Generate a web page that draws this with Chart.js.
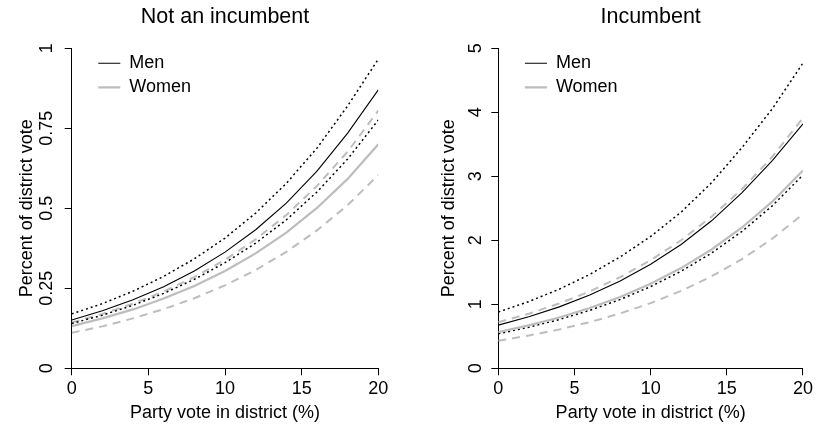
<!DOCTYPE html>
<html><head><meta charset="utf-8">
<script src="https://cdn.jsdelivr.net/npm/chart.js@4.4.1/dist/chart.umd.min.js"></script>
<style>
html,body{margin:0;padding:0;background:#fff;width:816px;height:435px;overflow:hidden}
#wrap{position:relative;width:816px;height:435px}
canvas{position:absolute;top:0}
#c1{left:0}
#c2{left:408px}
</style></head>
<body><div id="wrap"><canvas id="c1" width="408" height="435"></canvas><canvas id="c2" width="408" height="435"></canvas></div>
<script>
// Party vote in district (%)
const partyVote = [0, 2, 4, 6, 8, 10, 12, 14, 16, 18, 20];

// Panel 1: Not an incumbent
const nonIncMen      = [0.151, 0.180, 0.214, 0.255, 0.304, 0.363, 0.433, 0.516, 0.616, 0.735, 0.870];
const nonIncMenHi    = [0.170, 0.202, 0.241, 0.287, 0.342, 0.407, 0.485, 0.578, 0.688, 0.820, 0.966];
const nonIncMenLo    = [0.140, 0.166, 0.197, 0.234, 0.278, 0.330, 0.391, 0.464, 0.551, 0.654, 0.776];
const nonIncWomen    = [0.132, 0.156, 0.184, 0.218, 0.257, 0.304, 0.359, 0.424, 0.501, 0.592, 0.700];
const nonIncWomenHi  = [0.143, 0.170, 0.202, 0.240, 0.285, 0.339, 0.403, 0.479, 0.570, 0.677, 0.805];
const nonIncWomenLo  = [0.111, 0.131, 0.156, 0.185, 0.219, 0.259, 0.307, 0.364, 0.431, 0.510, 0.604];

// Panel 2: Incumbent
const incMen      = [0.675, 0.805, 0.960, 1.145, 1.365, 1.625, 1.935, 2.305, 2.745, 3.250, 3.820];
const incMenHi    = [0.880, 1.042, 1.236, 1.466, 1.740, 2.060, 2.440, 2.900, 3.450, 4.060, 4.770];
const incMenLo    = [0.540, 0.641, 0.762, 0.905, 1.075, 1.277, 1.517, 1.801, 2.140, 2.542, 3.020];
const incWomen    = [0.565, 0.670, 0.794, 0.941, 1.115, 1.321, 1.566, 1.856, 2.200, 2.607, 3.090];
const incWomenHi  = [0.720, 0.853, 1.012, 1.200, 1.425, 1.690, 2.000, 2.370, 2.800, 3.310, 3.910];
const incWomenLo  = [0.430, 0.511, 0.607, 0.721, 0.857, 1.018, 1.209, 1.437, 1.707, 2.028, 2.410];

const panelTitles = ["Not an incumbent", "Incumbent"];
const seriesNames = ["Men", "Women"];
const xTitle = "Party vote in district (%)";
const yTitle = "Percent of district vote";

Chart.defaults.font.family = '"Liberation Sans", Arial, Helvetica, sans-serif';
Chart.defaults.color = '#111';

const pts = ys => partyVote.map((x, i) => ({x: x, y: ys[i]}));

const legendShift = {
  id: 'legendShift',
  afterLayout(chart, args, opts) {
    const lg = chart.legend;
    const ca = chart.chartArea;
    if (lg) {
      const w = lg.width, h = lg.height;
      lg.left = ca.left + opts.dx; lg.right = lg.left + w;
      lg.top = ca.top; lg.bottom = lg.top + h;
    }
  }
};

function makeChart(id, title, men, menHi, menLo, women, womenHi, womenLo, yMax, yStep, yAxisWidth, yTickPad, yTitlePad, padRight) {
  const BLACK = '#000';
  const GREY = '#bdbdbd';
  return new Chart(document.getElementById(id), {
    type: 'line',
    data: {
      datasets: [
        {label: seriesNames[0], data: pts(men), borderColor: BLACK, borderWidth: 1.1},
        {label: seriesNames[1], data: pts(women), borderColor: GREY, borderWidth: 2.2},
        {label: 'Men upper', data: pts(menHi), borderColor: BLACK, borderWidth: 1.5, borderDash: [2, 3]},
        {label: 'Men lower', data: pts(menLo), borderColor: BLACK, borderWidth: 1.5, borderDash: [2, 3]},
        {label: 'Women upper', data: pts(womenHi), borderColor: GREY, borderWidth: 2, borderDash: [8, 6]},
        {label: 'Women lower', data: pts(womenLo), borderColor: GREY, borderWidth: 2, borderDash: [8, 6]}
      ]
    },
    options: {
      responsive: false,
      animation: false,
      devicePixelRatio: 1,
      elements: {point: {radius: 0}, line: {tension: 0, fill: false}},
      layout: {padding: {left: 0, right: padRight, top: 0, bottom: 0}},
      plugins: {
        legendShift: {dx: 20.6},
        tooltip: {enabled: false},
        title: {
          display: true, text: title, fullSize: false,
          color: '#000', font: {size: 21.5, weight: 'normal'},
          padding: {top: 4, bottom: 18.5}
        },
        legend: {
          position: 'chartArea', align: 'start',
          labels: {
            filter: item => item.datasetIndex < 2,
            usePointStyle: true, pointStyle: 'line', pointStyleWidth: 22,
            padding: 6, color: '#000', font: {size: 18}
          }
        }
      },
      scales: {
        x: {
          type: 'linear', min: 0, max: 20,
          afterFit: s => { s.height = 66.7; },
          border: {display: true, color: '#000', width: 1},
          grid: {display: true, drawOnChartArea: false, drawTicks: true, tickLength: 7, color: '#000', lineWidth: 1},
          ticks: {stepSize: 5, padding: 3, color: '#000', font: {size: 18}, maxRotation: 0},
          title: {display: true, text: xTitle, color: '#000', font: {size: 18}, padding: {top: 0, bottom: 11}}
        },
        y: {
          type: 'linear', min: 0, max: yMax,
          afterFit: s => { s.width = yAxisWidth; },
          border: {display: true, color: '#000', width: 1},
          grid: {display: true, drawOnChartArea: false, drawTicks: true, tickLength: 7, color: '#000', lineWidth: 1},
          ticks: {
            stepSize: yStep, padding: yTickPad, color: '#000', font: {size: 18},
            minRotation: 90, maxRotation: 90, crossAlign: 'center',
            callback: v => String(parseFloat(Number(v).toFixed(2)))
          },
          title: {display: true, text: yTitle, color: '#000', font: {size: 18}, padding: {top: yTitlePad, bottom: 0}}
        }
      }
    },
    plugins: [legendShift]
  });
}

makeChart('c1', panelTitles[0], nonIncMen, nonIncMenHi, nonIncMenLo, nonIncWomen, nonIncWomenHi, nonIncWomenLo, 1, 0.25, 71.7, 0, 16, 29.7);
makeChart('c2', panelTitles[1], incMen, incMenHi, incMenLo, incWomen, incWomenHi, incWomenLo, 5, 1, 90.3, 10, 30, 11);
</script>
</body></html>
